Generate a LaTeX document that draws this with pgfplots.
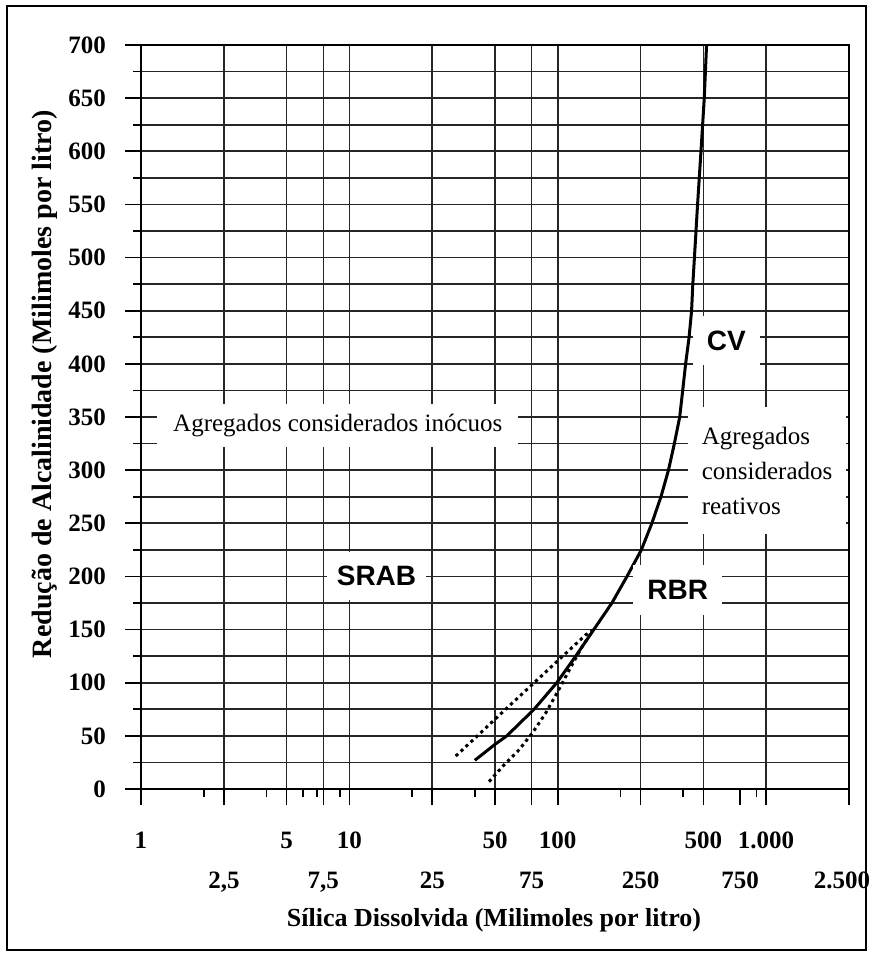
\documentclass[border=0pt]{standalone}
\usepackage{fontspec}
\setmainfont{Liberation Serif}
\newfontfamily\arialfont{Liberation Sans}
\usepackage{pgfplots}
\pgfplotsset{compat=1.18}

% second row of x tick labels
\newcommand\lowr[1]{\raisebox{-20pt}{#1}}

\begin{document}
\begin{tikzpicture}
\begin{axis}[
  scale only axis, width=354pt, height=372pt,
  xmode=log, xmin=1, xmax=2500, ymin=0, ymax=700,
  axis line style={line width=1.1pt},
  tick pos=left, tick align=outside, tick style={black, line width=0.8pt},
  major tick length=8pt, minor tick length=4pt,
  xtick={1,2.5,5,7.5,10,25,50,75,100,250,500,1000,2500},
  xticklabels={1,{\lowr{2,5}},5,{\lowr{7,5}},10,{\lowr{25}},50,{\lowr{75}},100,{\lowr{250}},500,{1.000},{\lowr{\kern-7pt 2.500}}},
  minor xtick={2,4,6,7,9,20,40,200,400,900},
  extra x ticks={750}, extra x tick labels={\lowr{750}}, extra x tick style={grid=none},
  ytick={0,50,...,700}, minor y tick num=1,
  xmajorgrids, ymajorgrids, yminorgrids,
  grid style={black!85, line width=0.8pt},
  minor grid style={black!85, line width=0.8pt},
  /pgf/number format/assume math mode=true,
  xticklabel style={font=\fontsize{12.5}{14}\selectfont\bfseries, anchor=base, yshift=-21.5pt},
  yticklabel style={font=\fontsize{12.5}{14}\selectfont\bfseries, xshift=-6pt},
  every axis x label/.style={at={(axis description cs:0.4986,-0.176)}, anchor=center,
    font=\fontsize{13}{15}\selectfont\bfseries},
  every axis y label/.style={at={(axis description cs:-0.136,0.544)}, rotate=90, anchor=center,
    font=\fontsize{14}{16}\selectfont\bfseries},
  xlabel={Sílica Dissolvida (Milimoles por litro)},
  ylabel={Redução de Alcalinidade (Milimoles por litro)},
]
% limite RBR / CV
\addplot[black, line width=1.5pt] coordinates {
  (40,27) (50,42) (57,50) (77,75) (99,100) (122,125) (149,150) (182,175)
  (215,200) (252,225) (283,250) (313,275) (340,300) (363,325) (385,350)
  (398,375) (411,400) (427,425) (439,450) (445,475) (453,500) (469,550)
  (487,600) (505,650) (518,700)
};
% limites pontilhados
\addplot[black, line width=1.5pt, dash pattern=on 1.6pt off 1.8pt] coordinates {
  (32.4,31) (41.9,51.4) (56.2,75) (75.4,98.2) (101,121.4) (136,144.9) (149,150)
};
\addplot[black, line width=1.5pt, dash pattern=on 1.6pt off 1.8pt] coordinates {
  (46.8,6.9) (55.2,22.6) (65.1,36.7) (75.4,52.4) (87.4,71.2) (101,93.1)
  (117,116.7) (131,133.9) (146,148)
};
\node[fill=white, inner xsep=8pt, inner ysep=5pt, font=\fontsize{12.5}{14}\selectfont]
  at (axis cs:8.8,342) {Agregados considerados inócuos};
\node[fill=white, align=left, inner xsep=7pt, inner ysep=10pt, font=\fontsize{12.5}{17.5}\selectfont]
  at (axis cs:1011,299.6) {Agregados\\considerados\\reativos};
\node[fill=white, inner xsep=7pt, inner ysep=7.5pt, font=\arialfont\bfseries\fontsize{14}{16}\selectfont]
  at (axis cs:644,422) {CV};
\node[fill=white, inner xsep=5pt, inner ysep=7pt, font=\arialfont\bfseries\fontsize{14}{16}\selectfont]
  at (axis cs:13.5,200.4) {SRAB};
\node[fill=white, inner xsep=7pt, inner ysep=7.5pt, font=\arialfont\bfseries\fontsize{14}{16}\selectfont]
  at (axis cs:377,187.2) {RBR};
\end{axis}
\pgfresetboundingbox
\draw[line width=1pt] (-67pt,-80.5pt) rectangle (362.5pt,391.5pt);
\path[use as bounding box] (-70.5pt,-83.5pt) rectangle (366pt,394.5pt);
\end{tikzpicture}
\end{document}
